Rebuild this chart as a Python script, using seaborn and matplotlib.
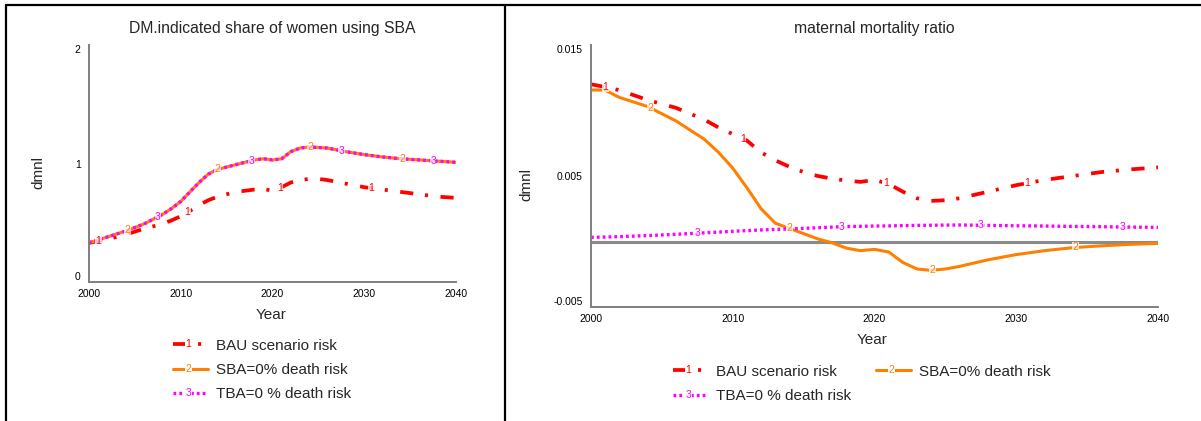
import numpy as np
import pandas as pd
import matplotlib
matplotlib.use("Agg")
import matplotlib.pyplot as plt
import seaborn as sns
from matplotlib.lines import Line2D
from matplotlib.text import Text
from matplotlib.legend_handler import HandlerLine2D

# ---- data ----
years_share = [2000, 2002, 2004, 2006, 2008, 2009, 2010, 2011, 2012, 2013, 2014, 2016,
               2018, 2019, 2020, 2021, 2022, 2023, 2024, 2025, 2026, 2028, 2030, 2032,
               2034, 2036, 2038, 2040]
bau_share = [0.33, 0.36, 0.40, 0.45, 0.49, 0.52, 0.555, 0.60, 0.65, 0.69, 0.72, 0.76,
             0.78, 0.785, 0.77, 0.80, 0.84, 0.86, 0.87, 0.87, 0.86, 0.83, 0.80, 0.78,
             0.76, 0.74, 0.72, 0.71]
sba_share = [0.33, 0.38, 0.43, 0.49, 0.57, 0.62, 0.68, 0.76, 0.84, 0.91, 0.95, 0.99,
             1.03, 1.04, 1.03, 1.04, 1.10, 1.13, 1.14, 1.135, 1.13, 1.10, 1.075, 1.055,
             1.04, 1.03, 1.02, 1.01]
tba_share = list(sba_share)

years_mmr = [2000, 2001, 2002, 2004, 2006, 2008, 2009, 2010, 2011, 2012, 2013, 2014,
             2015, 2016, 2017, 2018, 2019, 2020, 2021, 2022, 2023, 2024, 2025, 2026,
             2028, 2030, 2032, 2034, 2036, 2038, 2040]
bau_mmr = [0.0120, 0.0118, 0.01155, 0.0108, 0.0102, 0.0093, 0.0087, 0.0082, 0.0077,
           0.0068, 0.0062, 0.0057, 0.0053, 0.0050, 0.0048, 0.00465, 0.00455, 0.0047,
           0.0044, 0.0038, 0.0033, 0.0031, 0.00315, 0.0033, 0.0038, 0.0043, 0.0047,
           0.0050, 0.0053, 0.0055, 0.00566]
sba_mmr = [0.01157, 0.01155, 0.0110, 0.0103, 0.0092, 0.0078, 0.0068, 0.0056, 0.0041,
           0.0025, 0.0014, 0.0010, 0.0006, 0.0002, -0.0001, -0.0005, -0.0007, -0.0006,
           -0.0008, -0.0016, -0.0021, -0.0022, -0.0021, -0.0019, -0.0014, -0.0010,
           -0.0007, -0.00047, -0.00033, -0.00022, -0.00014]
tba_mmr = [0.00032, 0.00034, 0.00037, 0.00045, 0.00055, 0.00066, 0.00072, 0.00078,
           0.00083, 0.00088, 0.00092, 0.00096, 0.00100, 0.00105, 0.00110, 0.00114,
           0.00116, 0.00118, 0.00119, 0.00121, 0.00123, 0.00124, 0.00125, 0.00126,
           0.00123, 0.00120, 0.00118, 0.00115, 0.00113, 0.00110, 0.00108]

series_names = ["BAU scenario risk", "SBA=0% death risk", "TBA=0 % death risk"]
label_years = [[2001, 2010.7, 2020.8, 2030.8],
               [2004.2, 2014, 2024.1, 2034.2],
               [2007.5, 2017.7, 2027.5, 2037.5]]

# ---- styles ----
COLORS = ["#ff0000", "#ff8000", "#ff00ff"]
STYLES = [dict(lw=2.7, ls=(0, (9.5, 8.5, 2.2, 9.0)), solid_capstyle="butt", dash_capstyle="butt"),
          dict(lw=2.2, ls="-"),
          dict(lw=2.4, ls=(0, (2.0, 2.2)), dash_capstyle="butt")]

sns.set_theme(style="white")
plt.rcParams["font.family"] = ["Liberation Sans", "DejaVu Sans"]
plt.rcParams["lines.scale_dashes"] = False

fig = plt.figure(figsize=(12.01, 4.21), dpi=100)
ax1 = fig.add_axes([89 / 1201, 1 - 282 / 421, 367 / 1201, 237 / 421])
ax2 = fig.add_axes([591 / 1201, 1 - 307 / 421, 567 / 1201, 262 / 421])


class NumberedHandler(HandlerLine2D):
    def __init__(self, num, color, **kw):
        super().__init__(**kw)
        self.num = num
        self.color = color

    def create_artists(self, legend, orig_handle, xdescent, ydescent, width, height, fontsize, trans):
        arts = super().create_artists(legend, orig_handle, xdescent, ydescent, width, height, fontsize, trans)
        t = Text(width * 0.45 - xdescent, height / 2 - ydescent, self.num, color=self.color,
                 ha="center", va="center", fontsize=7.5, transform=trans,
                 bbox=dict(facecolor="white", edgecolor="none", pad=0.6))
        return list(arts) + [t]


def draw_panel(ax, years, series, title, ylim, yticks, yticklabels):
    for i, vals in enumerate(series):
        df = pd.DataFrame({"year": years, "value": vals})
        sns.lineplot(data=df, x="year", y="value", ax=ax, color=COLORS[i], **STYLES[i])
    for i, vals in enumerate(series):
        for yr in label_years[i]:
            ax.text(yr, np.interp(yr, years, vals), str(i + 1), color=COLORS[i], fontsize=7.5,
                    ha="center", va="center", zorder=5,
                    bbox=dict(facecolor="white", edgecolor="none", alpha=0.75, pad=0.3))
    ax.set_xlim(2000, 2040)
    ax.set_ylim(*ylim)
    ax.set_xticks([2000, 2010, 2020, 2030, 2040])
    ax.set_yticks(yticks)
    ax.set_yticklabels(yticklabels)
    labs = ax.get_yticklabels()
    labs[0].set_va("bottom")
    labs[-1].set_va("top")
    ax.tick_params(axis="both", length=0, labelsize=7.5, colors="black")
    ax.tick_params(axis="x", pad=5)
    ax.tick_params(axis="y", pad=6)
    for s in ["top", "right"]:
        ax.spines[s].set_visible(False)
    for s in ["left", "bottom"]:
        ax.spines[s].set_color("#7f7f7f")
        ax.spines[s].set_linewidth(1.4)
    ax.set_title(title, fontsize=11.3, pad=9)
    ax.set_ylabel("dmnl", fontsize=11)
    ax.set_xlabel("Year", fontsize=11)
    ax.grid(False)


draw_panel(ax1, years_share, [bau_share, sba_share, tba_share],
           "DM.indicated share of women using SBA", (0, 2), [0, 1, 2], ["0", "1", "2"])
draw_panel(ax2, years_mmr, [bau_mmr, sba_mmr, tba_mmr],
           "maternal mortality ratio", (-0.005, 0.015), [-0.005, 0.005, 0.015],
           ["-0.005", "0.005", "0.015"])
ax2.axhline(0, color="#8a8a8a", lw=2.2, zorder=1)

ax1.yaxis.set_label_coords(-0.118, 0.464)
ax2.yaxis.set_label_coords(-0.101, 0.466)
ax1.xaxis.set_label_coords(0.495, -0.11)
ax2.xaxis.set_label_coords(0.495, -0.1)

# legends
handles = [Line2D([0], [0], color=COLORS[i], **STYLES[i]) for i in range(3)]
hmap = {handles[i]: NumberedHandler(str(i + 1), COLORS[i]) for i in range(3)}
leg_kw = dict(handler_map=hmap, loc="upper left", frameon=False, fontsize=11,
              handlelength=2.3, handletextpad=0.5, labelspacing=0.67)
fig.legend(handles, series_names, bbox_to_anchor=(159 / 1201, 1 - 325 / 421), ncol=1, **leg_kw)
order = [0, 2, 1]
fig.legend([handles[i] for i in order], [series_names[i] for i in order],
           bbox_to_anchor=(659 / 1201, 1 - 351 / 421), ncol=2, columnspacing=1.65, **leg_kw)

# panel frame lines
for (x0, y0, x1, y1) in [(6, 5, 1201, 5), (6, 5, 6, 421), (505, 5, 505, 421)]:
    fig.add_artist(Line2D([x0 / 1201, x1 / 1201], [1 - y0 / 421, 1 - y1 / 421],
                          color="black", lw=1.6, transform=fig.transFigure))

fig.savefig("out.png", dpi=100)
